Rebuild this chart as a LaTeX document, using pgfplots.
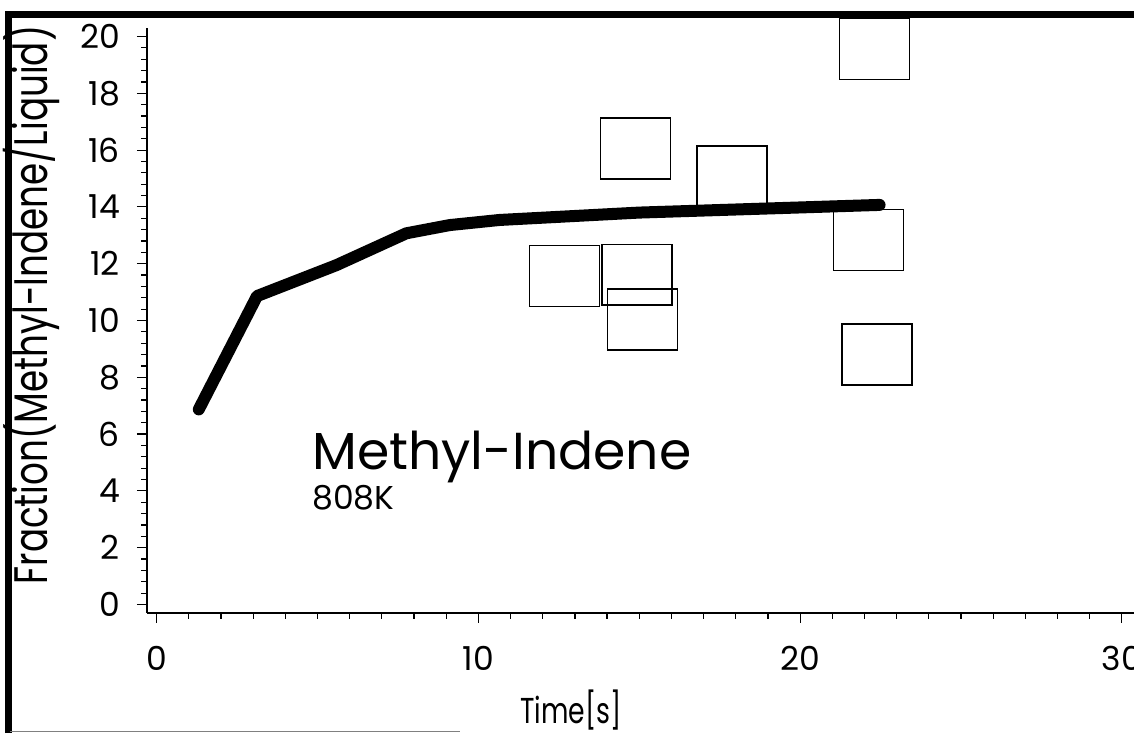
\documentclass[border=0pt]{standalone}
\usepackage{graphicx}
\usepackage{pgfplots}
\pgfplotsset{compat=1.18}
\usepackage{fontspec}
\setmainfont{Poppins}
\begin{document}
\begin{tikzpicture}
\clip (0,0) rectangle (567pt,366.5pt);
\path[use as bounding box] (0,0) rectangle (567pt,366.5pt);
\begin{axis}[
  at={(73.5pt,60pt)}, anchor=south west,
  scale only axis, width=503.5pt, height=292.5pt,
  xmin=-0.3, xmax=31, ymin=-0.3, ymax=20.3,
  axis x line=bottom, axis y line=left,
  axis line style={-, line width=0.8pt},
  xtick={0,10,20,30}, minor xtick={1,...,9,11,12,...,19,21,22,...,29},
  ytick={0,2,...,20}, minor ytick={0.4,0.8,...,19.6},
  tick align=outside,
  major tick length=5pt, minor tick length=3pt,
  tick style={line width=0.6pt, black},
  /pgf/number format/assume math mode=true,
  tick label style={font=\fontsize{16.5}{18}\selectfont},
  xticklabel style={yshift=-8pt},
  yticklabel style={xshift=-5pt},
  clip=false,
]
\addplot[black, line width=6pt, line cap=round, line join=round] coordinates {
  (1.31,6.87) (3.12,10.86) (5.59,11.95) (7.76,13.07) (9.11,13.36) (10.66,13.54)
  (15.0,13.80) (22.47,14.07)
};
\addplot[only marks, mark=square, mark size=17.5pt,
  mark options={black, line width=0.75pt, yscale=0.87}] coordinates {
  (22.31,19.56) (14.88,16.05) (17.89,15.07) (22.12,12.83)
  (12.67,11.57) (14.93,11.61) (15.10,10.03) (22.39,8.80)
};
\end{axis}
\node[anchor=base west, inner sep=0pt, font=\fontsize{26}{28}\selectfont] at (156pt,131.5pt) {Methyl-Indene};
\node[anchor=base west, inner sep=0pt, font=\fontsize{16.5}{18}\selectfont] at (156pt,111.5pt) {808K};
\node[anchor=base, inner sep=0pt, font=\fontsize{18}{20}\selectfont] at (285.5pt,5pt) {\scalebox{0.74}[1]{Time[s]}};
\node[rotate=90, anchor=base, inner sep=0pt, font=\fontsize{23.5}{26}\selectfont] at (23.5pt,214pt) {\scalebox{0.76}[1]{Fraction(Methyl-Indene/Liquid)}};
\draw[line width=3.5pt, black] (4pt,0pt) -- (4pt,359pt) -- (567pt,359pt);
\draw[line width=0.6pt, gray] (5pt,0.8pt) -- (230pt,0.8pt);
\end{tikzpicture}
\end{document}
